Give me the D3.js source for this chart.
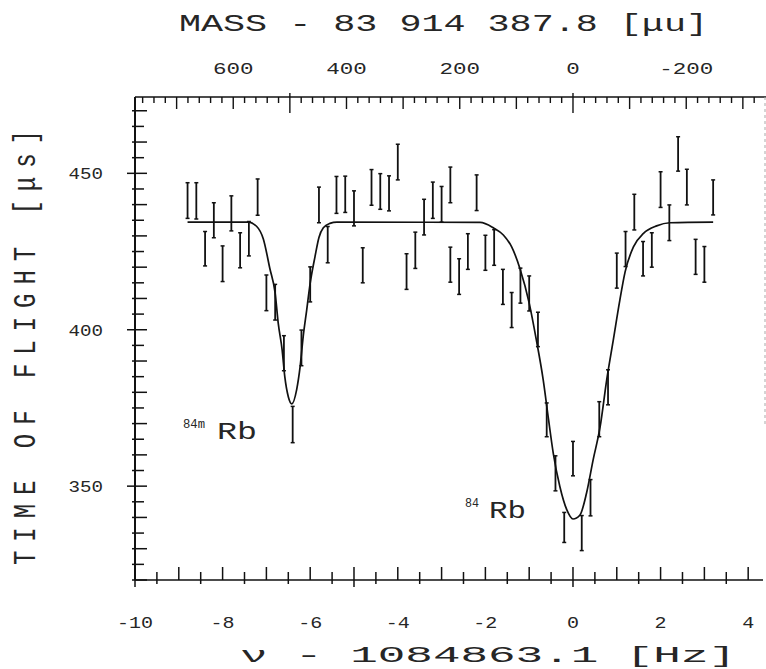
<!DOCTYPE html>
<html><head><meta charset="utf-8">
<script src="https://cdn.jsdelivr.net/npm/d3@7"></script>
<style>
html,body{margin:0;padding:0;background:#fff;}
svg{display:block;}
text{font-family:"Liberation Mono","DejaVu Sans Mono",monospace;fill:#262626;}
</style></head>
<body>
<svg id="c" width="766" height="669"></svg>
<script>
// ---- data ----
const freq = [-8.8,-8.6,-8.4,-8.2,-8.0,-7.8,-7.6,-7.4,-7.2,-7.0,-6.8,-6.6,-6.4,-6.2,-6.0,-5.8,-5.6,-5.4,-5.2,-5.0,
  -4.8,-4.6,-4.4,-4.2,-4.0,-3.8,-3.6,-3.4,-3.2,-3.0,-2.8,-2.8,-2.6,-2.4,-2.2,-2.0,-1.8,-1.6,-1.4,-1.2,-1.0,
  -0.8,-0.6,-0.4,-0.2,0.0,0.2,0.4,0.6,0.8,1.0,1.2,1.4,1.6,1.8,2.0,2.2,2.4,2.6,2.8,3.0,3.2];
const tof = [441.3,441.2,425.9,435.0,421.1,437.2,425.4,429.1,442.4,411.8,408.8,392.5,369.7,394.2,414.5,439.9,427.2,443.1,443.3,438.8,
  420.6,445.5,444.2,443.6,453.6,418.6,425.4,436.0,441.4,440.1,446.3,420.8,417.0,425.0,443.8,424.6,426.3,413.7,406.3,414.1,411.6,
  400.1,371.2,354.1,336.8,358.8,335.0,346.3,371.4,381.6,418.9,425.8,437.6,422.7,425.5,444.8,434.2,456.2,445.6,423.3,420.9,442.3];
const tofErr = [5.7,5.8,5.5,5.6,5.7,5.6,5.6,5.5,5.8,5.7,5.7,5.6,5.8,5.7,5.6,5.7,5.8,5.9,5.8,5.6,
  5.6,5.7,5.7,5.6,5.7,5.7,5.8,5.7,5.8,5.7,5.7,5.6,5.7,5.7,5.7,5.6,5.7,5.6,5.6,5.6,5.6,
  5.5,5.4,5.6,4.8,5.5,5.6,5.8,5.6,5.6,5.6,5.6,5.7,5.5,5.5,5.7,5.7,5.5,5.7,5.6,5.7,5.6];
// fitted curve, points
const fitFreq = [-8.8,-7.42,-7.22,-7.07,-6.92,-6.80,-6.73,-6.64,-6.58,-6.50,-6.42,-6.31,-6.23,-6.16,-6.08,-6.00,-5.89,-5.80,-5.70,-5.55,-5.39,
  -2.12,-1.82,-1.59,-1.40,-1.21,-1.00,-0.84,-0.68,-0.56,-0.45,-0.30,-0.14,0.0,0.16,0.31,0.46,0.62,0.77,0.92,1.07,1.19,1.38,1.61,1.91,2.21,3.2];
const fitTof = [434.4,434.4,433.0,429.0,419.5,411.7,402.1,393.5,385.0,378.6,376.3,380.8,388.2,397.8,406.3,414.9,423.4,429.5,432.6,434.0,434.4,
  434.3,432.6,430.3,426.5,419.5,408.5,397.0,384.0,371.5,360.5,349.9,342.4,339.5,340.8,347.8,358.4,369.0,384.0,396.7,409.5,418.5,426.5,430.8,433.2,434.2,434.4];
const xTicksLabeled = [-10,-8,-6,-4,-2,0,2,4];
const yTicksLabeled = [350,400,450];
const massTicksLabeled = [600,400,200,0,-200];
const massPerHz = 77.35; // μu per Hz at this mass/frequency
const title = "MASS - 83 914 387.8 [μu]";
const xTitle = "ν - 1084863.1  [Hz]";
const yTitle = "TIME OF FLIGHT [μs]";

// ---- chart ----
const svg = d3.select("#c");
const x = d3.scaleLinear().domain([-10, 4.4]).range([135, 765.7]);
const y = d3.scaleLinear().domain([320, 474.4]).range([580, 97]);
const xm = m => x(-m / massPerHz);
const ink = "#111";
const g = svg.append("g");

// stretched text helper (the plotter font is wide)
function wtext(sel, str, X, Y, size, len, anchor) {
  const t = sel.append("text").attr("font-size", size).attr("y", Y)
    .attr("textLength", len).attr("lengthAdjust", "spacingAndGlyphs").text(str);
  let x0 = X;
  if (anchor === "middle") x0 = X - len / 2;
  if (anchor === "end") x0 = X - len;
  t.attr("x", x0);
  return t;
}

// axis lines
g.append("line").attr("x1",x(-10)).attr("x2",x(-10)).attr("y1",y(474.4)).attr("y2",y(320)).attr("stroke",ink).attr("stroke-width",2);
g.append("line").attr("x1",x(-10)).attr("x2",763).attr("y1",y(320)).attr("y2",y(320)).attr("stroke",ink).attr("stroke-width",1.6);
g.append("line").attr("x1",x(-10)).attr("x2",766).attr("y1",y(474.4)).attr("y2",y(474.4)).attr("stroke",ink).attr("stroke-width",1.6);
// faint right border (scan artifact)
g.append("line").attr("x1",765).attr("x2",765).attr("y1",y(474.4)).attr("y2",425)
  .attr("stroke","#aaa").attr("stroke-width",1).attr("stroke-dasharray","3,3");

// bottom ticks every 0.5 Hz
d3.range(-10, 4.41, 0.5).forEach(v => {
  const X = x(v), Y = y(320);
  let y1, y2;
  if (Math.abs(v % 5) < 1e-6) { y1 = Y - 13; y2 = Y + 7; }
  else if (Math.abs(v % 1) < 1e-6) { y1 = Y - 13; y2 = Y; }
  else { y1 = Y - 8; y2 = Y + 4; }
  g.append("line").attr("x1",X).attr("x2",X).attr("y1",y1).attr("y2",y2).attr("stroke",ink).attr("stroke-width",1.5);
});
// left ticks every 5 μs
d3.range(320, 474.4, 5).forEach(v => {
  const Y = y(v), X = x(-10);
  let x1, x2;
  if (v % 50 === 0) { x1 = X - 8; x2 = X + 12; }
  else if (v % 10 === 0) { x1 = X - 3; x2 = X + 12; }
  else { x1 = X - 3; x2 = X + 9; }
  g.append("line").attr("x1",x1).attr("x2",x2).attr("y1",Y).attr("y2",Y).attr("stroke",ink).attr("stroke-width",1.5);
});
// top mass ticks every 20 μu
d3.range(-320, 761, 20).forEach(m => {
  const X = xm(m), Y = y(474.4);
  if (X < x(-10) + 1 || X > 766) return;
  let y1, y2;
  if (m % 500 === 0) { y1 = Y - 4; y2 = Y + 16; }
  else if (m % 100 === 0) { y1 = Y; y2 = Y + 12; }
  else { y1 = Y; y2 = Y + 6; }
  g.append("line").attr("x1",X).attr("x2",X).attr("y1",y1).attr("y2",y2).attr("stroke",ink).attr("stroke-width",1.4);
});

// tick labels
const lab = d => d < 0 ? "-" + Math.abs(d) : String(d);
xTicksLabeled.forEach(d => { const s = lab(d); wtext(g, s, x(d), 628, 16, s.length * 12, "middle"); });
yTicksLabeled.forEach(d => { const s = lab(d); wtext(g, s, 103, y(d) + 6, 16, s.length * 11.5, "end"); });
massTicksLabeled.forEach(d => { const s = lab(d); wtext(g, s, xm(d), 74, 16, s.length * 13.5, "middle"); });

// titles
wtext(g, title, 179, 31, 23, 529, "start");
wtext(g, xTitle, 240, 662, 22, 496, "start");
g.append("text").attr("transform","translate(35,565) rotate(-90) scale(1,1.3)").attr("font-size",24)
  .attr("textLength",435).attr("lengthAdjust","spacing").text(yTitle);

// isotope labels
wtext(g, "84m", 183, 428, 12, 22, "start");
wtext(g, "Rb", 217, 439, 23, 40, "start");
wtext(g, "84", 465, 507, 12, 14, "start");
wtext(g, "Rb", 489, 518, 23, 37, "start");

// fit curve
const fitPts = fitFreq.map((f,i) => [f, fitTof[i]]);
g.append("path").datum(fitPts)
  .attr("d", d3.line().x(d => x(d[0])).y(d => y(d[1])).curve(d3.curveMonotoneX))
  .attr("fill","none").attr("stroke",ink).attr("stroke-width",1.7);

// error bars
const pts = freq.map((f,i) => ({f, v: tof[i], e: tofErr[i]}));
const eb = g.selectAll(".eb").data(pts).enter().append("g");
eb.append("line").attr("x1",d=>x(d.f)).attr("x2",d=>x(d.f)).attr("y1",d=>y(d.v+d.e)).attr("y2",d=>y(d.v-d.e))
  .attr("stroke",ink).attr("stroke-width",1.8);
eb.append("line").attr("x1",d=>x(d.f)-2).attr("x2",d=>x(d.f)+2).attr("y1",d=>y(d.v+d.e)).attr("y2",d=>y(d.v+d.e))
  .attr("stroke",ink).attr("stroke-width",1.5);
eb.append("line").attr("x1",d=>x(d.f)-2).attr("x2",d=>x(d.f)+2).attr("y1",d=>y(d.v-d.e)).attr("y2",d=>y(d.v-d.e))
  .attr("stroke",ink).attr("stroke-width",1.5);
</script>
</body></html>
